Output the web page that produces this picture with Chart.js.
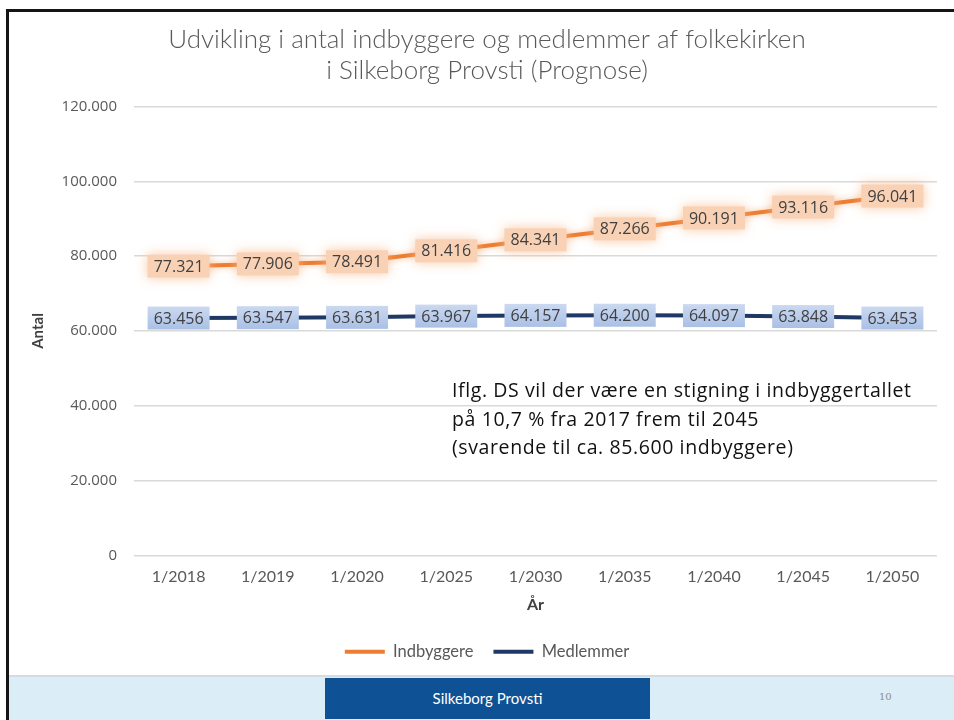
<!DOCTYPE html>
<html lang="da">
<head>
  <meta charset="UTF-8">
  <title>Udvikling i antal indbyggere og medlemmer af folkekirken</title>
  <script src="https://cdn.jsdelivr.net/npm/chart.js@4"></script>
  <style>
    body { margin: 0; width: 954px; height: 720px; overflow: hidden; background: #fff; position: relative; }
    #ramme { position: absolute; left: 6px; top: 9px; right: 0; bottom: 0; border-top: 3px solid #151515; border-left: 3px solid #151515; }
    #boks { position: absolute; left: 9px; top: 12px; width: 945px; height: 663px; }
    #note { position: absolute; left: 452px; top: 376px; font-family: 'Open Sans', sans-serif; font-size: 19.5px; letter-spacing: 0.6px; line-height: 28.5px; color: #111; white-space: nowrap; }
    #fod { position: absolute; left: 9px; top: 675px; right: 0; bottom: 0; background: #dbeef8; border-top: 2px solid #d3dce4; }
    #fodnavn { position: absolute; left: 316px; top: 1px; width: 325px; height: 41px; background: #0f5195; color: #fff; font-family: Lato, sans-serif; font-size: 15px; text-align: center; line-height: 41px; }
    #side { position: absolute; left: 870px; top: 14px; font-family: 'DejaVu Serif', serif; font-size: 10px; color: #8a8a8a; }
  </style>
</head>
<body>
  <div id="ramme"></div>
  <div id="boks"><canvas id="graf"></canvas></div>
  <div id="note">Iflg. DS vil der være en stigning i indbyggertallet<br>på 10,7 % fra 2017 frem til 2045<br>(svarende til ca. 85.600 indbyggere)</div>
  <div id="fod"><div id="fodnavn">Silkeborg Provsti</div><div id="side">10</div></div>

  <script>
    // data
    const aar = ['1/2018', '1/2019', '1/2020', '1/2025', '1/2030', '1/2035', '1/2040', '1/2045', '1/2050'];
    const indbyggere = [77321, 77906, 78491, 81416, 84341, 87266, 90191, 93116, 96041];
    const medlemmer = [63456, 63547, 63631, 63967, 64157, 64200, 64097, 63848, 63453];
    const yMin = 0, yMax = 120000, yTrin = 20000;

    function tal(n) {
      return String(n).replace(/\B(?=(\d{3})+(?!\d))/g, '.');
    }

    // glød omkring den orange linje
    const gloed = {
      id: 'gloed',
      beforeDatasetDraw(chart, args) {
        if (args.index === 0) {
          chart.ctx.save();
          chart.ctx.shadowColor = 'rgba(240,150,90,0.6)';
          chart.ctx.shadowBlur = 6;
        }
      },
      afterDatasetDraw(chart, args) {
        if (args.index === 0) chart.ctx.restore();
      }
    };

    // dataetiketter med farvet baggrund
    const etiketter = {
      id: 'etiketter',
      afterDatasetsDraw(chart) {
        const ctx = chart.ctx;
        ctx.save();
        ctx.font = '16px "Open Sans"';
        ctx.textAlign = 'center';
        ctx.textBaseline = 'middle';
        chart.data.datasets.forEach((ds, i) => {
          const meta = chart.getDatasetMeta(i);
          meta.data.forEach((p, j) => {
            const tekst = tal(ds.data[j]);
            const w = 62, h = 23;
            const x = p.x - w / 2, y = p.y - h / 2;
            if (i === 0) {
              ctx.shadowColor = 'rgba(248,185,140,0.8)';
              ctx.shadowBlur = 12;
              ctx.fillStyle = '#f9d2b6';
            } else {
              ctx.shadowBlur = 0;
              const g = ctx.createLinearGradient(0, y, 0, y + h);
              g.addColorStop(0, '#cbd9f0');
              g.addColorStop(1, '#a9c0e5');
              ctx.fillStyle = g;
            }
            ctx.fillRect(x, y, w, h);
            ctx.shadowBlur = 0;
            ctx.fillStyle = '#404040';
            ctx.fillText(tekst, p.x, p.y + 1);
          });
        });
        ctx.restore();
      }
    };

    new Chart(document.getElementById('graf'), {
      type: 'line',
      data: {
        labels: aar,
        datasets: [
          { label: 'Indbyggere', data: indbyggere, borderColor: '#ed7d31', backgroundColor: '#ed7d31', borderWidth: 4, borderCapStyle: 'round', pointRadius: 0, tension: 0 },
          { label: 'Medlemmer', data: medlemmer, borderColor: '#1f3864', backgroundColor: '#1f3864', borderWidth: 4, borderCapStyle: 'round', pointRadius: 0, tension: 0 }
        ]
      },
      options: {
        responsive: true,
        maintainAspectRatio: false,
        animation: false,
        layout: { padding: { top: 0, right: 17, bottom: 5, left: 28 } },
        plugins: {
          title: {
            display: true,
            text: ['Udvikling i antal indbyggere og medlemmer af folkekirken', 'i Silkeborg Provsti (Prognose)'],
            color: '#595959',
            font: { family: 'Lato', size: 26, weight: 300, lineHeight: 1.2 },
            padding: { top: 12, bottom: 20 }
          },
          legend: {
            position: 'bottom',
            labels: {
              usePointStyle: true,
              pointStyle: 'line',
              pointStyleWidth: 40,
              color: '#595959',
              font: { family: 'Lato', size: 16.5 },
              padding: 20
            }
          },
          tooltip: { enabled: false }
        },
        scales: {
          x: {
            offset: true,
            grid: { display: false, drawTicks: false },
            border: { display: false },
            ticks: { color: '#595959', font: { family: 'Lato', size: 16 }, padding: 12, maxRotation: 0 },
            title: { display: true, text: 'År', color: '#404040', font: { family: 'Lato', size: 16, weight: 'bold' }, padding: { top: 0, bottom: 9 } },
            afterFit(scale) { scale.height = 68; }
          },
          y: {
            min: yMin,
            max: yMax,
            grid: { color: '#d9d9d9', lineWidth: 1.5, drawTicks: false },
            border: { display: false },
            ticks: { stepSize: yTrin, color: '#595959', font: { family: 'Open Sans', size: 15 }, padding: 17, callback: v => tal(v) },
            title: { display: true, text: 'Antal', color: '#404040', font: { family: 'Lato', size: 15, weight: 'bold' }, padding: { top: -8, bottom: 0 } },
            afterFit(scale) { scale.width = 97; }
          }
        }
      },
      plugins: [gloed, etiketter]
    });
  </script>
</body>
</html>
